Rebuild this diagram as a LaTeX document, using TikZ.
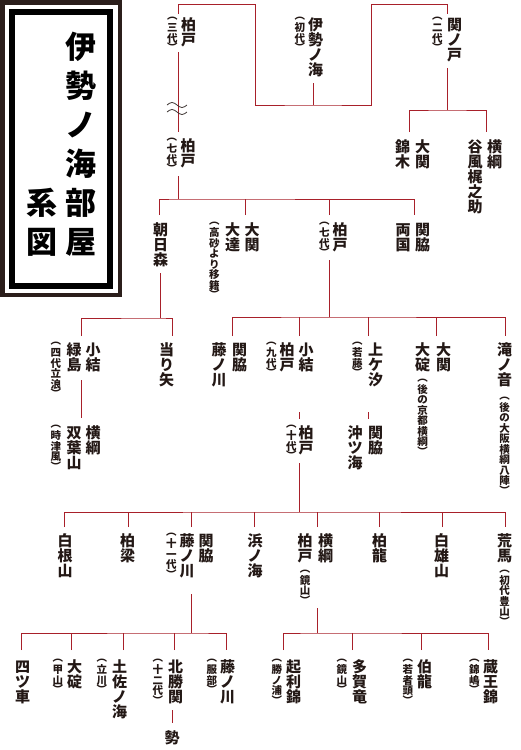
\documentclass[tikz,border=0pt]{standalone}
\usepackage{fontspec}
\usepackage{xcolor}
\usepackage{tikz}
\usetikzlibrary{positioning}
\newfontfamily\jpfont{Noto Sans CJK JP}
\definecolor{colInk}  {HTML}{231815}
\definecolor{colLine} {HTML}{A8202A}
\definecolor{colFrame}{HTML}{2B1E1B}
\definecolor{colWave} {HTML}{3A3230}
% vertical text: one character per cell, brackets in a shorter cell
\makeatletter
\newlength\tategap
\def\tate@lp{︵}\def\tate@rp{︶}
\def\tate@half{\hbox to 1em{\hss\vbox to .7em{\vss\hbox{\tate@c}\vss}\hss}}
\newcommand\tate[2][0pt]{\vbox{\offinterlineskip\setlength\tategap{#1}%
  \@tfor\tate@c:=#2\do{%
    \ifx\tate@c\tate@lp\tate@half\else
    \ifx\tate@c\tate@rp\tate@half\else
      \hbox to 1em{\hss\vrule height .88em depth .12em width 0pt\relax\smash{\tate@c}\hss}%
      \vskip\tategap\relax
    \fi\fi}}}
\makeatother
\tikzset{
  pname/.style={inner sep=0pt, anchor=north, text=colInk,
    font=\jpfont\bfseries\fontsize{15}{15}\selectfont},
  lname/.style={pname, anchor=north east},
  pnote/.style={inner sep=0pt, anchor=north, text=colInk,
    font=\jpfont\bfseries\fontsize{10.5}{10.5}\selectfont},
  lnote/.style={pnote, anchor=north east, yshift=2pt},
  ptitle/.style={inner sep=0pt, anchor=north, text=black,
    font=\jpfont\bfseries\fontsize{31}{31}\selectfont},
  tline/.style={draw=colLine, line width=0.9pt},
  wave/.style={draw=colWave, line width=0.8pt},
  frameout/.style={draw=colFrame, line width=4.5pt},
  framein/.style={draw=black, line width=6pt}
}
\begin{document}
\begin{tikzpicture}[x=1pt, y=-1pt, node distance=3pt]
\useasboundingbox (0,0) rectangle (520,750);
% title
\draw[frameout] (2.25,2.25) rectangle (119.75,294.75);
\draw[framein] (12,12) rectangle (109.5,285.5);
\node[ptitle] (title1) at (81,31) {\tate[8pt]{伊勢ノ海部屋}};
\node[ptitle] (title2) at (42,187) {\tate[8pt]{系図}};

% founders
\node[pname] (kashiwa3) at (188.5,17) {\tate{柏戸}};
\node[left=3pt of kashiwa3.north west, lnote] (kashiwa3n) {\tate{︵三代︶}};
\node[pname] (iseno1) at (315.5,17) {\tate{伊勢ノ海}};
\node[left=2.5pt of iseno1.north west, lnote] (iseno1n) {\tate{︵初代︶}};
\node[pname] (sekino2) at (454.5,17) {\tate{関ノ戸}};
\node[left=4pt of sekino2.north west, lnote] (sekino2n) {\tate{︵二代︶}};

\node[pname] (ozeki1) at (422.5,139) {\tate{大関}};
\node[left=4.5pt of ozeki1.north west, lname] (nishiki) {\tate{錦木}};
\node[pname] (yoko1) at (494.5,139) {\tate{横綱}};
\node[left=4pt of yoko1.north west, lname] (tanikaze) {\tate{谷風梶之助}};

\node[pname] (kashiwa7) at (188,138) {\tate{柏戸}};
\node[left=3pt of kashiwa7.north west, lnote] (kashiwa7n) {\tate{︵七代︶}};

\node[pname] (asahi) at (160.5,222) {\tate{朝日森}};
\node[pname] (ozeki2) at (252,222) {\tate{大関}};
\node[left=4pt of ozeki2.north west, lname] (odate) {\tate{大達}};
\node[left=5pt of odate.north west, lnote] (odaten) {\tate{︵高砂より移籍︶}};
\node[pname] (kashiwa8) at (340,222) {\tate{柏戸}};
\node[left=2.5pt of kashiwa8.north west, lnote] (kashiwa8n) {\tate{︵七代︶}};
\node[pname] (seki1) at (422.5,222) {\tate{関脇}};
\node[left=4pt of seki1.north west, lname] (ryogoku) {\tate{両国}};

\node[pname] (komu1) at (93,342) {\tate{小結}};
\node[left=3.5pt of komu1.north west, lname] (midori) {\tate{緑島}};
\node[left=5pt of midori.north west, lnote] (midorin) {\tate{︵四代立浪︶}};
\node[pname] (yoko2) at (93,425) {\tate{横綱}};
\node[left=3.5pt of yoko2.north west, lname] (futaba) {\tate{双葉山}};
\node[left=5pt of futaba.north west, lnote] (futaban) {\tate{︵時津風︶}};
\node[pname] (atari) at (166.5,342) {\tate{当り矢}};

\node[pname] (seki2) at (239.5,342) {\tate{関脇}};
\node[left=5pt of seki2.north west, lname] (fuji1) {\tate{藤ノ川}};
\node[pname] (komu2) at (306,342) {\tate{小結}};
\node[left=3.5pt of komu2.north west, lname] (kashiwa9) {\tate{柏戸}};
\node[left=2.5pt of kashiwa9.north west, lnote] (kashiwa9n) {\tate{︵九代︶}};
\node[pname] (kashiwa10) at (306,425) {\tate{柏戸}};
\node[left=1.5pt of kashiwa10.north west, lnote] (kashiwa10n) {\tate{︵十代︶}};
\node[pname] (kamiga) at (375.5,342) {\tate{上ケ汐}};
\node[left=5pt of kamiga.north west, lnote] (kamigan) {\tate{︵若藤︶}};
\node[pname] (seki3) at (375.5,425) {\tate{関脇}};
\node[left=5pt of seki3.north west, lname] (okitsu) {\tate{沖ツ海}};
\node[pname] (ozeki3) at (443.5,342) {\tate{大関}};
\node[left=5.5pt of ozeki3.north west, lname] (oikari1) {\tate{大碇}};
\node[pnote, below=4pt of oikari1] (oikari1n) {\tate{︵後の京都横綱︶}};
\node[pname] (taki) at (504.5,342) {\tate{滝ノ音}};
\node[pnote, below=7pt of taki] (takin) {\tate{︵後の大阪横綱八陣︶}};

\node[pname] (shirane) at (65,533) {\tate{白根山}};
\node[pname] (hakuryo) at (127.5,533) {\tate{柏梁}};
\node[pname] (seki4) at (206,533) {\tate{関脇}};
\node[left=3.5pt of seki4.north west, lname] (fuji11) {\tate{藤ノ川}};
\node[left=2.5pt of fuji11.north west, lnote] (fuji11n) {\tate{︵十一代︶}};
\node[pname] (hama) at (255,533) {\tate{浜ノ海}};
\node[pname] (yoko3) at (325.5,533) {\tate{横綱}};
\node[left=5pt of yoko3.north west, lname] (kashiwak) {\tate{柏戸}};
\node[pnote, below=4pt of kashiwak] (kashiwakn) {\tate{︵鏡山︶}};
\node[pname] (hakuryu1) at (379.5,533) {\tate{柏龍}};
\node[pname] (hakuyu) at (441.5,533) {\tate{白雄山}};
\node[pname] (arauma) at (504.5,533) {\tate{荒馬}};
\node[pnote, below=4pt of arauma] (araumn) {\tate{︵初代豊山︶}};

\node[pname] (yotsu) at (22.5,659) {\tate{四ツ車}};
\node[pname] (oikari2) at (74.5,659) {\tate{大碇}};
\node[left=3.5pt of oikari2.north west, lnote] (oikari2n) {\tate{︵甲山︶}};
\node[pname] (tosa) at (119.5,659) {\tate{土佐ノ海}};
\node[left=4.5pt of tosa.north west, lnote] (tosan) {\tate{︵立川︶}};
\node[pname] (hokuto) at (175.5,659) {\tate{北勝関}};
\node[left=4.5pt of hokuto.north west, lnote] (hokuton) {\tate{︵十二代︶}};
\node[pname] (sei) at (172,730) {\tate{勢}};
\node[pname] (fuji2) at (227.5,659) {\tate{藤ノ川}};
\node[left=2.5pt of fuji2.north west, lnote] (fuji2n) {\tate{︵服部︶}};
\node[pname] (kiri) at (293.5,659) {\tate{起利錦}};
\node[left=3.5pt of kiri.north west, lnote] (kirin) {\tate{︵勝ノ浦︶}};
\node[pname] (taga) at (359.5,659) {\tate{多賀竜}};
\node[left=4.5pt of taga.north west, lnote] (tagan) {\tate{︵鏡山︶}};
\node[pname] (hakuryu2) at (424.5,659) {\tate{伯龍}};
\node[left=3.5pt of hakuryu2.north west, lnote] (hakuryu2n) {\tate{︵若者頭︶}};
\node[pname] (zao) at (490.5,659) {\tate{蔵王錦}};
\node[left=3pt of zao.north west, lnote] (zaon) {\tate{︵錦嶋︶}};

% line ends
\coordinate (t-k3) at (178,14);   \coordinate (t-s2) at (447,14);
\coordinate (up-l) at (255,4);    \coordinate (up-r) at (371,4);
\coordinate (b-ise) at (313,83);  \coordinate (j-ise) at (313,105);
\coordinate (b-s2) at (447,68);   \coordinate (j-s2) at (447,110);
\coordinate (t-nishiki) at (409,132); \coordinate (t-tani) at (486,132);
\coordinate (b-k3) at (178,52);   \coordinate (t-k7) at (178,132);
\coordinate (b-k7) at (178,176);  \coordinate (j-k7) at (178,199);
\coordinate (t-asahi) at (159,215); \coordinate (t-ozeki2) at (245,215);
\coordinate (t-k8) at (329,215);  \coordinate (t-seki1) at (414,215);
\coordinate (b-asahi) at (160,273); \coordinate (j-asahi) at (160,318);
\coordinate (t-midori) at (81,336); \coordinate (t-atari) at (172,336);
\coordinate (b-midori) at (81,380); \coordinate (t-futaba) at (81,418);
\coordinate (b-k8) at (329,260);  \coordinate (j-k8) at (329,317);
\coordinate (t-fuji1) at (232,336); \coordinate (t-k9) at (299,336);
\coordinate (t-kamiga) at (368,336); \coordinate (t-ozeki3) at (436,336);
\coordinate (t-taki) at (505,336);
\coordinate (b-k9) at (299,412);  \coordinate (t-k10) at (299,419);
\coordinate (b-kamiga) at (368,412); \coordinate (t-okitsu) at (368,419);
\coordinate (b-k10) at (299,463); \coordinate (j-k10) at (299,512);
\coordinate (t-shirane) at (64,527); \coordinate (t-hakuryo) at (128,527);
\coordinate (t-fuji11) at (191,527); \coordinate (t-hama) at (254,527);
\coordinate (t-kashiwak) at (317,527); \coordinate (t-hakuryu1) at (379,527);
\coordinate (t-hakuyu) at (442,527); \coordinate (t-arauma) at (505,527);
\coordinate (b-fuji11) at (191,594); \coordinate (j-fuji11) at (191,633);
\coordinate (t-yotsu) at (21,650); \coordinate (t-oikari2) at (71,650);
\coordinate (t-tosa) at (123,650); \coordinate (t-hokuto) at (174,650);
\coordinate (t-fuji2) at (226,650);
\coordinate (b-kashiwak) at (317,608); \coordinate (j-kashiwak) at (317,633);
\coordinate (t-kiri) at (283,650); \coordinate (t-taga) at (352,650);
\coordinate (t-hakuryu2) at (421,650); \coordinate (t-zao) at (488,650);
\coordinate (b-hokuto) at (172,710); \coordinate (t-sei) at (172,723);

% connectors
\draw[tline] (t-k3) |- (up-l) |- (j-ise) -| (up-r) -| (t-s2);
\draw[tline] (b-ise) -- (j-ise);
\draw[tline] (b-s2) -- (j-s2);
\draw[tline] (t-nishiki) |- (j-s2) -| (t-tani);
\draw[tline] (b-k3) -- (t-k7);
\draw[tline] (b-k7) -- (j-k7);
\draw[tline] (t-asahi) |- (j-k7) -| (t-seki1);
\foreach \c in {t-ozeki2, t-k8} \draw[tline] (\c) -- (\c |- j-k7);
\draw[tline] (b-asahi) -- (j-asahi);
\draw[tline] (t-midori) |- (j-asahi) -| (t-atari);
\draw[tline] (b-midori) -- (t-futaba);
\draw[tline] (b-k8) -- (j-k8);
\draw[tline] (t-fuji1) |- (j-k8) -| (t-taki);
\foreach \c in {t-k9, t-kamiga, t-ozeki3} \draw[tline] (\c) -- (\c |- j-k8);
\draw[tline] (b-k9) -- (t-k10);
\draw[tline] (b-kamiga) -- (t-okitsu);
\draw[tline] (b-k10) -- (j-k10);
\draw[tline] (t-shirane) |- (j-k10) -| (t-arauma);
\foreach \c in {t-hakuryo, t-fuji11, t-hama, t-kashiwak, t-hakuryu1, t-hakuyu}
  \draw[tline] (\c) -- (\c |- j-k10);
\draw[tline] (b-fuji11) -- (j-fuji11);
\draw[tline] (t-yotsu) |- (j-fuji11) -| (t-fuji2);
\foreach \c in {t-oikari2, t-tosa, t-hokuto} \draw[tline] (\c) -- (\c |- j-fuji11);
\draw[tline] (b-kashiwak) -- (j-kashiwak);
\draw[tline] (t-kiri) |- (j-kashiwak) -| (t-zao);
\foreach \c in {t-taga, t-hakuryu2} \draw[tline] (\c) -- (\c |- j-kashiwak);
\draw[tline] (b-hokuto) -- (t-sei);

% break mark
\draw[wave] (167,105) sin (172,102.5) cos (177,105) sin (182,107.5) cos (187,105);
\draw[wave] (167,112) sin (172,109.5) cos (177,112) sin (182,114.5) cos (187,112);
\end{tikzpicture}
\end{document}
